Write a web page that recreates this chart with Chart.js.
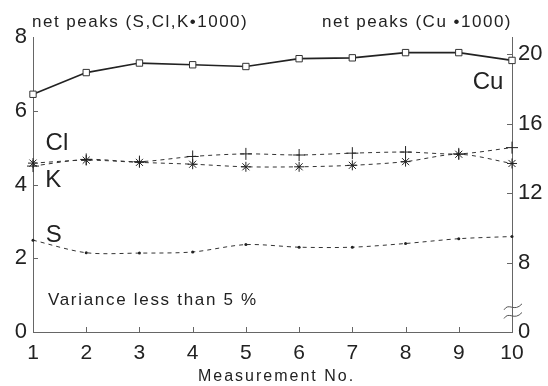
<!DOCTYPE html>
<html>
<head>
<meta charset="utf-8">
<script src="https://cdn.jsdelivr.net/npm/chart.js@4.4.0/dist/chart.umd.min.js"></script>
<style>
  html, body { margin: 0; padding: 0; background: #fff; }
  #wrap { width: 548px; height: 386px; position: relative; }
</style>
</head>
<body>
<div id="wrap"><canvas id="chart"></canvas></div>
<script>
// values
const measurements = [1, 2, 3, 4, 5, 6, 7, 8, 9, 10];
const cuPeaks = [17.7, 18.95, 19.5, 19.4, 19.3, 19.75, 19.8, 20.1, 20.1, 19.65]; // right axis
const clPeaks = [4.5, 4.68, 4.62, 4.76, 4.83, 4.8, 4.85, 4.88, 4.83, 5.0];
const kPeaks = [4.58, 4.66, 4.6, 4.55, 4.48, 4.48, 4.52, 4.62, 4.82, 4.57];
const sPeaks = [2.49, 2.15, 2.14, 2.17, 2.37, 2.3, 2.3, 2.4, 2.53, 2.59];
const leftTicks = [0, 2, 4, 6, 8];
const rightTicks = [4, 8, 12, 16, 20]; // 4 is the broken-axis bottom, labelled "0"

const FONT = '"Liberation Sans", Arial, sans-serif';
const INK = '#222';

const pts = arr => arr.map((v, i) => ({ x: measurements[i], y: v }));

// inward ticks, axis break, series labels and headers
const extras = {
  id: 'extras',
  afterDraw(chart) {
    const { ctx, chartArea: a, scales: { x, y, y2 } } = chart;
    ctx.save();
    ctx.strokeStyle = '#666';
    ctx.lineWidth = 1;
    ctx.beginPath();
    leftTicks.slice(1, -1).forEach(v => {
      const py = Math.round(y.getPixelForValue(v)) + 0.5;
      ctx.moveTo(a.left, py); ctx.lineTo(a.left + 5, py);
    });
    rightTicks.slice(1).forEach(v => {
      const py = Math.round(y2.getPixelForValue(v)) + 0.5;
      ctx.moveTo(a.right, py); ctx.lineTo(a.right - 5, py);
    });
    measurements.slice(1, -1).forEach(v => {
      const px = Math.round(x.getPixelForValue(v)) + 0.5;
      ctx.moveTo(px, a.bottom); ctx.lineTo(px, a.bottom - 5);
    });
    ctx.stroke();

    // axis break squiggles
    ctx.strokeStyle = '#555';
    [5.45, 4.95].forEach(v => {
      const py = y2.getPixelForValue(v);
      const px = a.right;
      ctx.beginPath();
      ctx.moveTo(px - 8, py + 3);
      ctx.bezierCurveTo(px - 3, py - 5, px + 2, py + 6, px + 10, py - 3);
      ctx.stroke();
    });

    ctx.fillStyle = INK;
    ctx.textBaseline = 'middle';
    ctx.textAlign = 'center';
    ctx.font = '24px ' + FONT;
    ctx.fillText('Cl', x.getPixelForValue(1.45), y.getPixelForValue(5.12));
    ctx.fillText('K', x.getPixelForValue(1.38), y.getPixelForValue(4.12));
    ctx.fillText('S', x.getPixelForValue(1.39), y.getPixelForValue(2.63));
    ctx.fillText('Cu', x.getPixelForValue(9.55), y2.getPixelForValue(18.4));

    ctx.textAlign = 'left';
    ctx.font = '17px ' + FONT;
    ctx.letterSpacing = '1.7px';
    ctx.fillText('Variance less than 5 %', x.getPixelForValue(1.28), y.getPixelForValue(0.87));

    ctx.font = '16px ' + FONT;
    ctx.letterSpacing = '2px';
    ctx.textAlign = 'center';
    ctx.fillText('Measurement No.', (a.left + a.right) / 2 + 4, a.bottom + 45);

    ctx.font = '17px ' + FONT;
    ctx.letterSpacing = '1.5px';
    ctx.textBaseline = 'alphabetic';
    ctx.textAlign = 'left';
    ctx.fillText('net peaks (S,Cl,K\u20221000)', a.left - 1, a.top - 10);
    ctx.textAlign = 'right';
    ctx.fillText('net peaks (Cu \u20221000)', a.right, a.top - 10);
    ctx.restore();
  }
};

const dashed = { borderColor: '#333', borderWidth: 1, borderDash: [4, 4], tension: 0.3, clip: false, yAxisID: 'y' };

new Chart(document.getElementById('chart'), {
  type: 'line',
  data: {
    datasets: [
      { label: 'Cu', data: pts(cuPeaks), yAxisID: 'y2', borderColor: '#222', borderWidth: 1.7,
        pointStyle: 'rect', pointRadius: 4.5, pointBackgroundColor: '#fff', pointBorderColor: '#333',
        pointBorderWidth: 1, clip: false },
      { ...dashed, label: 'Cl', data: pts(clPeaks), pointStyle: 'cross', pointRadius: 6,
        pointBorderColor: '#222', pointBorderWidth: 1 },
      { ...dashed, label: 'K', data: pts(kPeaks), pointStyle: 'star', pointRadius: 5,
        pointBorderColor: '#222', pointBorderWidth: 1 },
      { ...dashed, label: 'S', data: pts(sPeaks), pointStyle: 'circle', pointRadius: 1.5,
        pointBackgroundColor: '#222', pointBorderColor: '#222', pointBorderWidth: 0 }
    ]
  },
  options: {
    responsive: true,
    maintainAspectRatio: false,
    animation: false,
    layout: { padding: { top: 37, left: 0, right: 0, bottom: 0 } },
    plugins: { legend: { display: false }, tooltip: { enabled: false } },
    scales: {
      x: {
        type: 'linear', min: 1, max: 10,
        afterBuildTicks: s => { s.ticks = measurements.map(v => ({ value: v })); },
        ticks: { color: INK, font: { family: FONT, size: 21 }, padding: 9, maxRotation: 0 },
        grid: { display: false, drawTicks: false },
        border: { display: true, color: '#666' },
        afterFit: s => { s.height = 54; }
      },
      y: {
        position: 'left', min: 0, max: 8,
        afterBuildTicks: s => { s.ticks = leftTicks.map(v => ({ value: v })); },
        ticks: { color: INK, font: { family: FONT, size: 22 }, padding: 6 },
        grid: { display: false, drawTicks: false },
        border: { display: true, color: '#666' },
        afterFit: s => { s.width = 33; }
      },
      y2: {
        position: 'right', min: 4, max: 21,
        afterBuildTicks: s => { s.ticks = rightTicks.map(v => ({ value: v })); },
        ticks: { color: INK, font: { family: FONT, size: 22 }, padding: 6,
                 callback: v => (v === 4 ? '0' : v) },
        grid: { display: false, drawTicks: false },
        border: { display: true, color: '#666' },
        afterFit: s => { s.width = 36; }
      }
    }
  },
  plugins: [extras]
});
</script>
</body>
</html>
